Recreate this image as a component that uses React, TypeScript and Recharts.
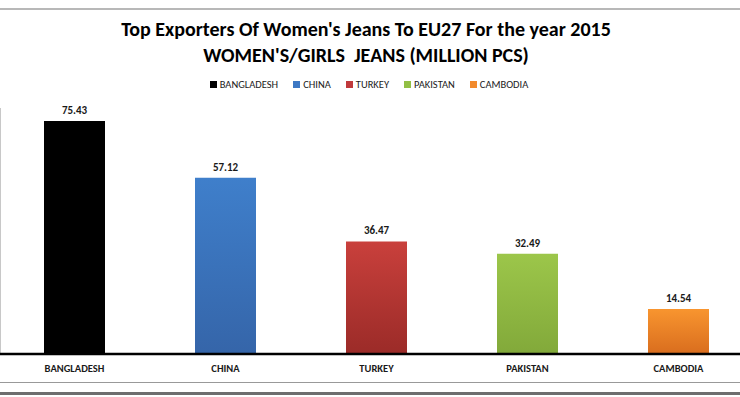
import React from "react";
import { BarChart, Bar, XAxis, YAxis, Cell, LabelList } from "recharts";

const countries = ["BANGLADESH", "CHINA", "TURKEY", "PAKISTAN", "CAMBODIA"];
const volumes = [75.43, 57.12, 36.47, 32.49, 14.54];
const colorsTop = ["#000000", "#3f7fcb", "#c9403c", "#9cc64a", "#f8952f"];
const colorsBottom = ["#000000", "#3565a9", "#9b2b28", "#82a93a", "#d96d1e"];
const legendColors = ["#000000", "#3d78c4", "#c0393b", "#92bf45", "#f28a2c"];

const data = countries.map((name, i) => ({ name, value: volumes[i] }));

const font = "Carlito, 'Liberation Sans Narrow', 'Open Sans', sans-serif";

// legend drawn outside the chart so it doesn't push the plot down
function LegendBox() {
  return (
    <div
      style={{
        position: "absolute",
        left: 0,
        top: 78,
        width: 740,
        display: "flex",
        justifyContent: "center",
        fontFamily: font,
        fontSize: 10.5,
        color: "#222",
      }}
    >
      <div style={{ display: "flex", marginLeft: -2 }}>
        {countries.map((c, i) => (
          <div key={c} style={{ display: "flex", alignItems: "center", marginLeft: i ? 15 : 0 }}>
            <span
              style={{
                width: 7,
                height: 7,
                background: legendColors[i],
                marginRight: 3,
                display: "inline-block",
              }}
            />
            {c}
          </div>
        ))}
      </div>
    </div>
  );
}

export default function App() {
  return (
    <div
      style={{
        position: "absolute",
        left: 0,
        top: 0,
        width: 740,
        height: 397,
        overflow: "hidden",
        background: "#fff",
      }}
    >
      <div style={{ position: "absolute", left: 0, top: 8, width: 740, height: 2, background: "#b8b8b8" }} />
      <div style={{ position: "absolute", left: 0, top: 108, width: 1, height: 246, background: "#c8c8c8" }} />
      <div style={{ position: "absolute", left: 0, top: 382, width: 740, height: 1, background: "#999999", zIndex: 2 }} />
      <div style={{ position: "absolute", left: 0, top: 392, width: 740, height: 3, background: "#6e6e6e", zIndex: 2 }} />

      <div
        style={{
          position: "absolute",
          left: 0,
          top: 16,
          width: 732,
          textAlign: "center",
          fontFamily: font,
          fontWeight: "bold",
          fontSize: 20,
          lineHeight: "26px",
          color: "#000",
        }}
      >
        <div>Top Exporters Of Women's Jeans To EU27 For the year 2015</div>
        <div>WOMEN'S/GIRLS&nbsp; JEANS (MILLION PCS)</div>
      </div>

      <LegendBox />

      <div style={{ position: "absolute", left: -1, top: 0 }}>
        <BarChart
          width={755}
          height={397}
          data={data}
          margin={{ top: 107, right: 0, bottom: 15, left: 0 }}
        >
          <defs>
            {countries.map((c, i) => (
              <linearGradient key={c} id={"g" + i} x1="0" y1="0" x2="0" y2="1">
                <stop offset="0%" stopColor={colorsTop[i]} />
                <stop offset="100%" stopColor={colorsBottom[i]} />
              </linearGradient>
            ))}
          </defs>
          <XAxis
            dataKey="name"
            height={28}
            tickLine={false}
            axisLine={{ stroke: "#000", strokeWidth: 2.5 }}
            tickMargin={5}
            tick={{ fontFamily: font, fontSize: 10.5, fontWeight: "bold", fill: "#1a1a1a" }}
            interval={0}
          />
          <YAxis hide domain={[0, 80]} />
          <Bar dataKey="value" barSize={61} isAnimationActive={false}>
            {data.map((d, i) => (
              <Cell key={d.name} fill={`url(#g${i})`} />
            ))}
            <LabelList
              dataKey="value"
              position="top"
              offset={7}
              style={{ fontFamily: font, fontSize: 11, fontWeight: "bold", fill: "#1a1a1a" }}
            />
          </Bar>
        </BarChart>
      </div>
    </div>
  );
}
